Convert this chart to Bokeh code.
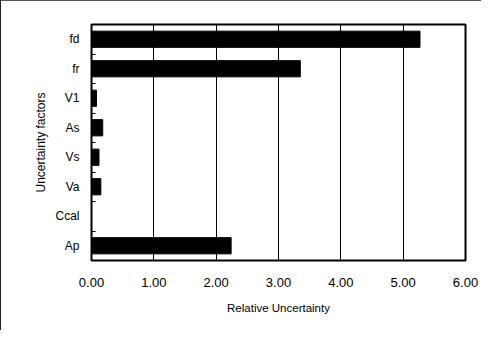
from bokeh.plotting import figure
from bokeh.models import FixedTicker, NumeralTickFormatter, Range1d
from bokeh.embed import file_html
from bokeh.resources import INLINE

categories = ["fd", "fr", "V1", "As", "Vs", "Va", "Ccal", "Ap"]
values = [5.27, 3.35, 0.08, 0.18, 0.12, 0.15, 0.0, 2.24]
x_ticks = [0, 1, 2, 3, 4, 5, 6]

n = len(categories)
ypos = [n - i - 0.5 for i in range(n)]

p = figure(width=481, height=330, output_backend="svg", toolbar_location=None,
           x_range=Range1d(0, 6), y_range=Range1d(0, n),
           min_border_left=90, min_border_right=17, min_border_top=23, min_border_bottom=71)
p.styles = {"border-left": "1px solid #222", "border-top": "1px solid #555"}

p.hbar(y=ypos, right=values, left=0, height=0.55, color="black")

FONT = "Liberation Sans"
p.xaxis.ticker = FixedTicker(ticks=x_ticks)
p.xaxis.formatter = NumeralTickFormatter(format="0.00")
p.xaxis.major_tick_line_color = None
p.xaxis.minor_tick_line_color = None
p.xaxis.axis_line_color = None
p.xaxis.major_label_standoff = 11
p.xaxis.major_label_text_font = FONT
p.xaxis.major_label_text_font_size = "13px"
p.xaxis.major_label_text_color = "black"
p.xaxis.axis_label = "Relative Uncertainty"
p.xaxis.axis_label_text_font = FONT
p.xaxis.axis_label_text_font_size = "11.5px"
p.xaxis.axis_label_text_font_style = "normal"
p.xaxis.axis_label_text_color = "black"
p.xaxis.axis_label_standoff = 12

p.yaxis.ticker = FixedTicker(ticks=ypos, minor_ticks=list(range(1, n)))
p.yaxis.major_label_overrides = {y: c for y, c in zip(ypos, categories)}
p.yaxis.major_tick_line_color = None
p.yaxis.minor_tick_in = 4
p.yaxis.minor_tick_out = 0
p.yaxis.minor_tick_line_color = "black"
p.yaxis.axis_line_color = None
p.yaxis.major_label_standoff = 6
p.yaxis.major_label_text_font = FONT
p.yaxis.major_label_text_font_size = "12px"
p.yaxis.major_label_text_color = "black"
p.yaxis.axis_label = "Uncertainty factors"
p.yaxis.axis_label_text_font = FONT
p.yaxis.axis_label_text_font_size = "12px"
p.yaxis.axis_label_text_font_style = "normal"
p.yaxis.axis_label_text_color = "black"
p.yaxis.axis_label_standoff = 4

p.xgrid.grid_line_color = "black"
p.xgrid.grid_line_width = 1
p.ygrid.grid_line_color = None

p.outline_line_color = "black"
p.outline_line_width = 2
p.outline_line_alpha = 1

open("out.html", "w").write(file_html(p, INLINE))
